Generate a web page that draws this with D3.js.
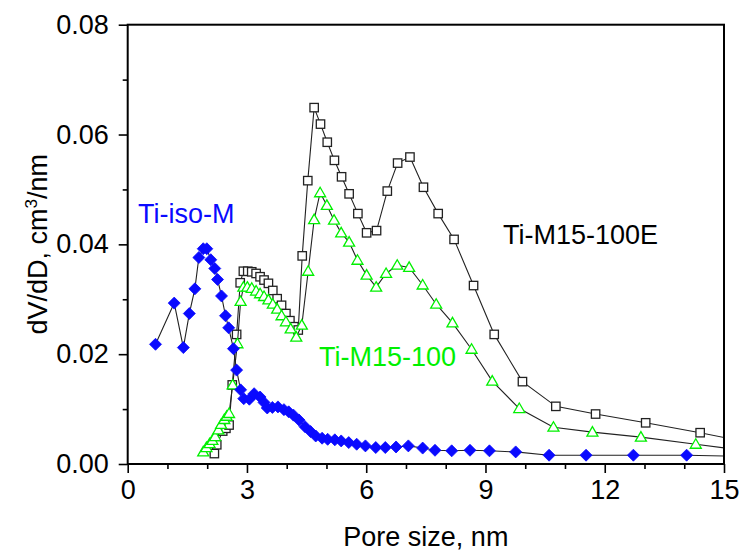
<!DOCTYPE html>
<html>
<head>
<meta charset="utf-8">
<script src="https://cdn.jsdelivr.net/npm/d3@7"></script>
<style>
  html, body { margin: 0; padding: 0; background: #fff; }
  svg { display: block; font-family: "Liberation Sans", Arial, sans-serif; }
</style>
</head>
<body>
<svg id="chart" width="745" height="559"></svg>
<script>
// ---------------- data ----------------
const isoM_x = [0.70,1.17,1.40,1.55,1.69,1.79,1.90,1.99,2.09,2.19,2.26,2.36,2.46,2.54,2.66,2.74,2.84,2.92,3.06,3.18,3.33,3.43,3.51,3.64,3.78,3.93,4.05,4.17,4.31,4.46,4.60,4.73,4.89,5.03,5.21,5.37,5.56,5.76,5.98,6.24,6.48,6.75,7.06,7.42,7.73,8.15,8.61,9.10,9.76,10.60,11.53,12.72,14.06,16.0];
const isoM_y = [0.0218,0.0293,0.0212,0.0274,0.0319,0.0376,0.0392,0.0392,0.0372,0.0356,0.0336,0.0306,0.0270,0.0248,0.0210,0.0171,0.0135,0.0119,0.0118,0.0128,0.0122,0.0112,0.0102,0.0103,0.0104,0.0099,0.0095,0.0089,0.0080,0.0068,0.0059,0.0051,0.0047,0.0045,0.0044,0.0042,0.0039,0.0036,0.0033,0.0030,0.0030,0.0031,0.0033,0.0029,0.0025,0.0024,0.0025,0.0024,0.0022,0.0016,0.0016,0.0016,0.0016,0.0013];

const e100_x = [2.18,2.24,2.39,2.47,2.55,2.63,2.74,2.83,2.91,3.02,3.12,3.23,3.33,3.43,3.54,3.65,3.76,3.87,3.98,4.08,4.18,4.29,4.39,4.53,4.69,4.85,5.02,5.20,5.38,5.57,5.79,6.01,6.26,6.53,6.79,7.10,7.44,7.81,8.21,8.70,9.22,9.93,10.77,11.77,13.03,14.40,15.9];
const e100_y = [0.0019,0.0035,0.0060,0.0065,0.0071,0.0144,0.0236,0.0330,0.0351,0.0351,0.0350,0.0347,0.0341,0.0335,0.0329,0.0316,0.0301,0.0289,0.0274,0.0261,0.0250,0.0244,0.0379,0.0516,0.0649,0.0619,0.0586,0.0553,0.0523,0.0492,0.0456,0.0421,0.0425,0.0497,0.0548,0.0559,0.0504,0.0456,0.0409,0.0325,0.0236,0.0150,0.0105,0.0091,0.0075,0.0057,0.0035];

const m100_x = [1.90,1.98,2.06,2.13,2.20,2.28,2.35,2.43,2.49,2.55,2.64,2.76,2.84,2.91,3.01,3.12,3.23,3.33,3.43,3.54,3.65,3.76,3.87,3.98,4.10,4.24,4.38,4.54,4.69,4.84,5.01,5.19,5.37,5.57,5.78,6.01,6.25,6.50,6.78,7.08,7.42,7.76,8.17,8.65,9.17,9.85,10.71,11.69,12.91,14.29,15.8];
const m100_y = [0.0022,0.0030,0.0037,0.0043,0.0050,0.0062,0.0072,0.0081,0.0087,0.0092,0.0144,0.0219,0.0296,0.0322,0.0322,0.0320,0.0315,0.0310,0.0305,0.0299,0.0291,0.0282,0.0270,0.0259,0.0246,0.0231,0.0253,0.0351,0.0445,0.0494,0.0471,0.0444,0.0421,0.0404,0.0371,0.0344,0.0322,0.0347,0.0362,0.0358,0.0326,0.0291,0.0257,0.0209,0.0151,0.0101,0.0067,0.0058,0.0049,0.0036,0.0022];

const xMajorTicks = [0,3,6,9,12,15];
const xMinorTicks = [1,2,4,5,7,8,10,11,13,14];
const yMajorTicks = [0,0.02,0.04,0.06,0.08];
const yMinorTicks = [0.01,0.03,0.05,0.07];
const xLabel = "Pore size, nm";
const seriesNames = ["Ti-iso-M","Ti-M15-100","Ti-M15-100E"];

// ---------------- drawing ----------------
const svg = d3.select("#chart");
const x = d3.scaleLinear().domain([0,15]).range([127.7,724]);
const y = d3.scaleLinear().domain([0,0.08]).range([464,24.7]);
const FS = 27;

svg.append("defs").append("clipPath").attr("id","plotclip")
  .append("rect").attr("x",x(0)).attr("y",y(0.08)-10)
  .attr("width",x(15)-x(0)).attr("height",y(0)-y(0.08)+10);

const plot = svg.append("g").attr("clip-path","url(#plotclip)");
const zip = (xs, ys) => xs.map((v,i)=>[v, ys[i]]);
const line = d3.line().x(d=>x(d[0])).y(d=>y(d[1]));

const black = zip(e100_x,e100_y);
const green = zip(m100_x,m100_y);
const blue = zip(isoM_x,isoM_y);

function drawLine(data){
  plot.append("path").datum(data).attr("d",line)
    .attr("fill","none").attr("stroke","#222").attr("stroke-width",1.1);
}

// black squares
drawLine(black);
plot.append("g").selectAll("rect").data(black).join("rect")
  .attr("x",d=>x(d[0])-4.2).attr("y",d=>y(d[1])-4.2)
  .attr("width",8.4).attr("height",8.4)
  .attr("fill","#fff").attr("stroke","#222").attr("stroke-width",1.3);

// green triangles
drawLine(green);
plot.append("g").selectAll("path").data(green).join("path")
  .attr("d",d=>{const cx=x(d[0]), cy=y(d[1]); return `M${cx},${cy-5.5}L${cx+5.5},${cy+4}L${cx-5.5},${cy+4}Z`;})
  .attr("fill","#fff").attr("stroke","#00f000").attr("stroke-width",1.3);

// blue diamonds
drawLine(blue);
plot.append("g").selectAll("path").data(blue).join("path")
  .attr("d",d=>{const cx=x(d[0]), cy=y(d[1]); return `M${cx},${cy-6}L${cx+6},${cy}L${cx},${cy+6}L${cx-6},${cy}Z`;})
  .attr("fill","#0a0aff").attr("stroke","#0a0aff").attr("stroke-width",0.8);

// frame
svg.append("rect").attr("x",x(0)).attr("y",y(0.08))
  .attr("width",x(15)-x(0)).attr("height",y(0)-y(0.08))
  .attr("fill","none").attr("stroke","#000").attr("stroke-width",2);

// axes
const xAxis = svg.append("g").attr("transform",`translate(0,${y(0)})`)
  .call(d3.axisBottom(x).tickValues(xMajorTicks).tickSize(9).tickPadding(7).tickFormat(d3.format("d")));
const xMinor = svg.append("g").attr("transform",`translate(0,${y(0)})`)
  .call(d3.axisBottom(x).tickValues(xMinorTicks).tickSize(5).tickFormat(""));
const yAxis = svg.append("g").attr("transform",`translate(${x(0)},0)`)
  .call(d3.axisLeft(y).tickValues(yMajorTicks).tickSize(9).tickPadding(10).tickFormat(d3.format(".2f")));
const yMinor = svg.append("g").attr("transform",`translate(${x(0)},0)`)
  .call(d3.axisLeft(y).tickValues(yMinorTicks).tickSize(5).tickFormat(""));

[xAxis,xMinor,yAxis,yMinor].forEach(g=>{
  g.select(".domain").remove();
  g.selectAll("line").attr("stroke","#000").attr("stroke-width",1.6);
  g.selectAll("text").attr("font-size",FS).attr("fill","#000")
    .attr("font-family","'Liberation Sans', Arial, sans-serif");
});

// axis titles
svg.append("text").attr("x",(x(0)+x(15))/2).attr("y",546)
  .attr("text-anchor","middle").attr("font-size",FS).attr("fill","#000").text(xLabel);

const yt = svg.append("text")
  .attr("transform",`translate(47,${(y(0)+y(0.08))/2}) rotate(-90)`)
  .attr("text-anchor","middle").attr("font-size",FS).attr("fill","#000");
yt.append("tspan").text("dV/dD, cm");
yt.append("tspan").attr("font-size",17).attr("dy",-10).text("3");
yt.append("tspan").attr("dy",10).text("/nm");

// series labels
svg.append("text").attr("x",138).attr("y",223).attr("font-size",27)
  .attr("fill","#0a0aff").text(seriesNames[0]);
svg.append("text").attr("x",319).attr("y",366).attr("font-size",27)
  .attr("fill","#00f000").text(seriesNames[1]);
svg.append("text").attr("x",503).attr("y",244).attr("font-size",27)
  .attr("fill","#000").text(seriesNames[2]);
</script>
</body>
</html>
